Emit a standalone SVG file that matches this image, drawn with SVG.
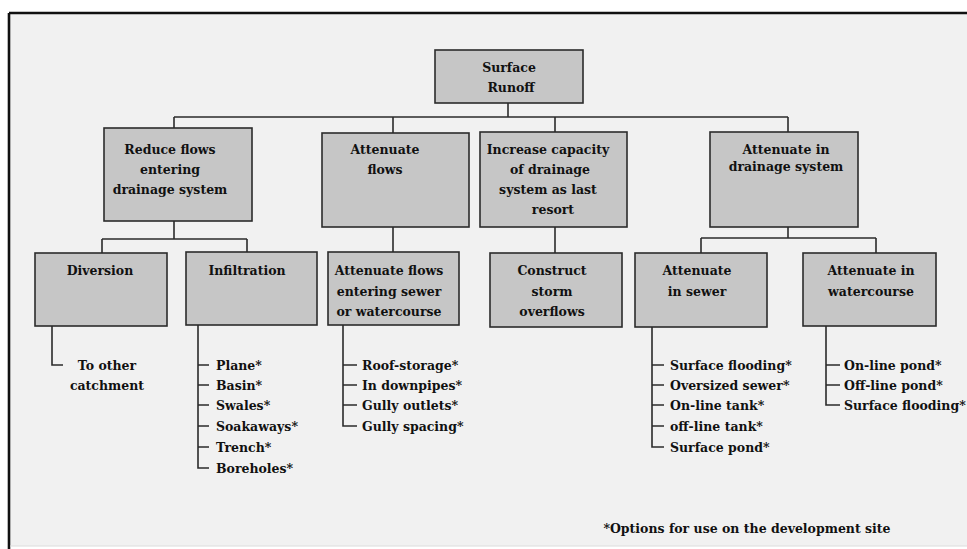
<svg xmlns="http://www.w3.org/2000/svg" width="967" height="549" viewBox="0 0 967 549">
  <style>
    .box { fill: #c6c6c6; stroke: #2b2b2b; stroke-width: 1.6; }
    .hd { font-family: "DejaVu Serif", "Liberation Serif", serif; font-weight: bold; font-size: 12.5px; fill: #111; text-anchor: middle; }
    .it { font-family: "DejaVu Serif", "Liberation Serif", serif; font-weight: bold; font-size: 12.5px; fill: #111; }
    .ln { fill: none; stroke: #2b2b2b; stroke-width: 1.6; }
  </style>

  <!-- page and frame -->
  <rect x="0" y="0" width="967" height="549" fill="#ffffff"/>
  <rect x="9" y="13" width="958" height="533" fill="#f1f1f1"/>
  <path d="M9,13 H967 M9,13 V549" fill="none" stroke="#111" stroke-width="2.6"/>
  <path d="M10,546 H967" fill="none" stroke="#dcdcdc" stroke-width="1"/>

  <!-- connectors -->
  <g id="connectors" class="ln">
    <path d="M508,103 V117 M174,117 H788 M174,117 V128 M393,117 V133 M555,117 V132 M788,117 V132"/>
    <path d="M174,221 V239 M102,239 H247 M102,239 V253 M247,239 V252"/>
    <path d="M393,227 V252"/>
    <path d="M555,227 V253"/>
    <path d="M788,227 V238 M701,238 H876 M701,238 V253 M876,238 V253"/>
    <path d="M52,326 V365 H63"/>
    <path d="M198,325 V468 H209 M198,365 H209 M198,385 H209 M198,405 H209 M198,426 H209 M198,447 H209"/>
    <path d="M343,325 V426 H357 M343,365 H357 M343,385 H357 M343,405 H357"/>
    <path d="M652,327 V447 H664 M652,365 H664 M652,385 H664 M652,405 H664 M652,426 H664"/>
    <path d="M826,326 V405 H840 M826,365 H840 M826,385 H840"/>
  </g>

  <g id="surface-runoff">
    <rect class="box" x="435" y="50" width="148" height="53"/>
    <text class="hd" x="509" y="71.5">Surface</text>
    <text class="hd" x="511" y="91.5">Runoff</text>
  </g>

  <g id="reduce-flows">
    <rect class="box" x="104" y="128" width="148" height="93"/>
    <text class="hd" x="170" y="153.5">Reduce flows</text>
    <text class="hd" x="170" y="173.5">entering</text>
    <text class="hd" x="170" y="193.5">drainage system</text>
  </g>

  <g id="attenuate-flows">
    <rect class="box" x="322" y="133" width="147" height="94"/>
    <text class="hd" x="385" y="153.5">Attenuate</text>
    <text class="hd" x="385" y="173.5">flows</text>
  </g>

  <g id="increase-capacity">
    <rect class="box" x="480" y="132" width="147" height="95"/>
    <text class="hd" x="548" y="153.5">Increase capacity</text>
    <text class="hd" x="550" y="174">of drainage</text>
    <text class="hd" x="548" y="193.5">system as last</text>
    <text class="hd" x="553" y="214">resort</text>
  </g>

  <g id="attenuate-drainage">
    <rect class="box" x="710" y="132" width="148" height="95"/>
    <text class="hd" x="786" y="153.5">Attenuate in</text>
    <text class="hd" x="786" y="170.5">drainage system</text>
  </g>

  <g id="diversion">
    <rect class="box" x="35" y="253" width="132" height="73"/>
    <text class="hd" x="100" y="274.5">Diversion</text>
  </g>

  <g id="infiltration">
    <rect class="box" x="186" y="252" width="131" height="73"/>
    <text class="hd" x="247" y="274.5">Infiltration</text>
  </g>

  <g id="attenuate-entering">
    <rect class="box" x="328" y="252" width="131" height="73"/>
    <text class="hd" x="389" y="274.5">Attenuate flows</text>
    <text class="hd" x="389" y="295.5">entering sewer</text>
    <text class="hd" x="389" y="315.5">or watercourse</text>
  </g>

  <g id="storm-overflows">
    <rect class="box" x="490" y="253" width="132" height="74"/>
    <text class="hd" x="552" y="274.5">Construct</text>
    <text class="hd" x="552" y="295.5">storm</text>
    <text class="hd" x="552" y="315.5">overflows</text>
  </g>

  <g id="attenuate-sewer">
    <rect class="box" x="635" y="253" width="132" height="74"/>
    <text class="hd" x="697" y="274.5">Attenuate</text>
    <text class="hd" x="697" y="295.5">in sewer</text>
  </g>

  <g id="attenuate-watercourse">
    <rect class="box" x="803" y="253" width="133" height="73"/>
    <text class="hd" x="871" y="274.5">Attenuate in</text>
    <text class="hd" x="871" y="295.5">watercourse</text>
  </g>

  <!-- option lists -->
  <g id="diversion-options">
    <text class="hd" x="107" y="370">To other</text>
    <text class="hd" x="107" y="389.5">catchment</text>
  </g>

  <g id="infiltration-options" class="it">
    <text x="216" y="369.5">Plane*</text>
    <text x="216" y="389.5">Basin*</text>
    <text x="216" y="409.5">Swales*</text>
    <text x="216" y="430.5">Soakaways*</text>
    <text x="216" y="451.5">Trench*</text>
    <text x="216" y="472.5">Boreholes*</text>
  </g>

  <g id="entering-options" class="it">
    <text x="362" y="369.5">Roof-storage*</text>
    <text x="362" y="389.5">In downpipes*</text>
    <text x="362" y="409.5">Gully outlets*</text>
    <text x="362" y="430.5">Gully spacing*</text>
  </g>

  <g id="sewer-options" class="it">
    <text x="670" y="369.5">Surface flooding*</text>
    <text x="670" y="389.5">Oversized sewer*</text>
    <text x="670" y="409.5">On-line tank*</text>
    <text x="670" y="430.5">off-line tank*</text>
    <text x="670" y="451.5">Surface pond*</text>
  </g>

  <g id="watercourse-options" class="it">
    <text x="844" y="369.5">On-line pond*</text>
    <text x="844" y="389.5">Off-line pond*</text>
    <text x="844" y="409.5">Surface flooding*</text>
  </g>

  <text id="footnote" class="hd" x="747" y="533">*Options for use on the development site</text>
</svg>
